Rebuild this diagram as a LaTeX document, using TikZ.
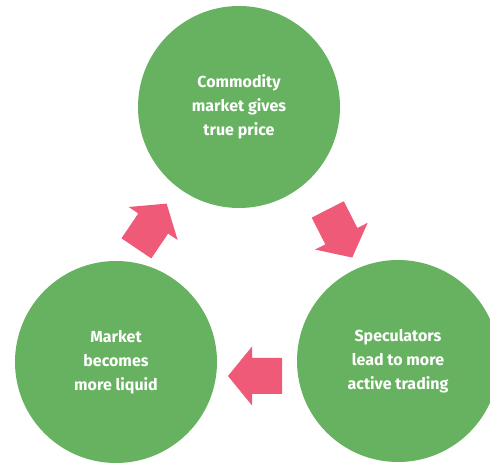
\documentclass[tikz,border=0pt]{standalone}
\usepackage{fontspec}
\setmainfont{Fira Sans}
\usetikzlibrary{positioning}
\definecolor{LeafGreen}{RGB}{102,178,96}
\definecolor{RosePink}{RGB}{238,90,120}

\tikzset{
  bubble/.style={circle, fill=LeafGreen, minimum size=202pt, inner sep=0pt,
    text=white, align=center, font=\fontsize{16}{24}\selectfont\bfseries},
  pics/fatarrow/.style={code={
    \fill[RosePink] (-27,-18) -- (3,-18) -- (3,-29.5) -- (27,0)
      -- (3,29.5) -- (3,18) -- (-27,18) -- cycle;}}
}

\begin{document}
\begin{tikzpicture}[x=1pt, y=1pt]
        \useasboundingbox (0,0) rectangle (490,463);

        % Three stages of the cycle
        \node[bubble] (price) at (239,356) {Commodity\\market gives\\true price};
        \node[bubble] (trading) at (398,102) {Speculators\\lead to more\\active trading};
        \node[bubble] (liquid) at (116,101) {Market\\becomes\\more liquid};

        % Block arrows between the stages
        \pic[rotate=-63] at (340,229.5) {fatarrow};
        \pic[rotate=180] at (255,87) {fatarrow};
        \pic[rotate=56] at (151.5,237) {fatarrow};
    \end{tikzpicture}
\end{document}
